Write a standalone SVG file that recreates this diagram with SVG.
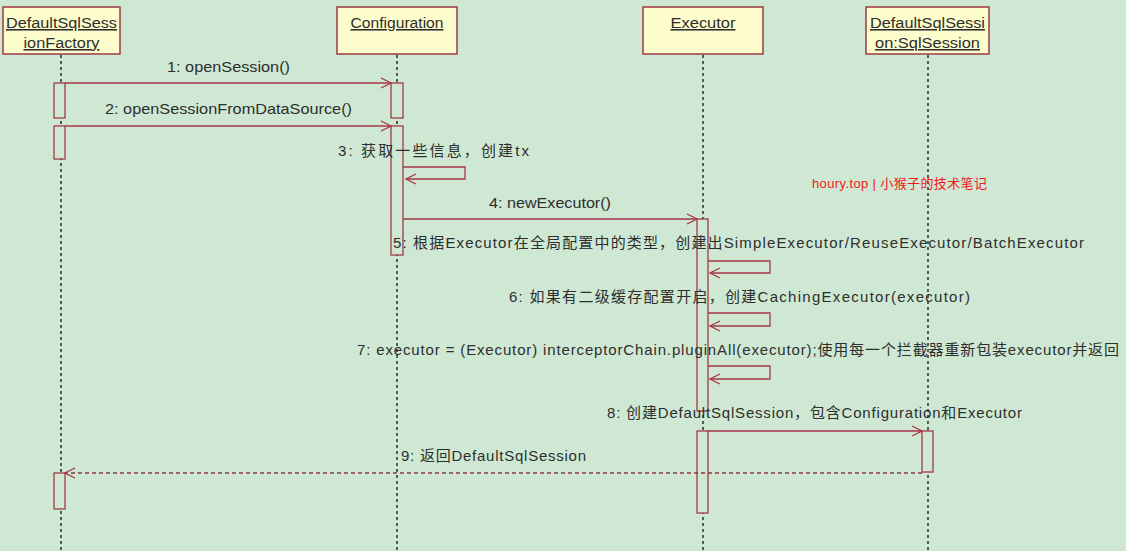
<svg xmlns="http://www.w3.org/2000/svg" width="1126" height="551" viewBox="0 0 1126 551">
<style>
  .bg{fill:#cfe8d3}
  .head{fill:#fdfccc;stroke:#9a3a44;stroke-width:1.5}
  .htxt{font-family:"Liberation Sans","Noto Sans CJK SC",sans-serif;font-size:15.5px;fill:#2e2e2e;text-decoration:underline;text-anchor:middle}
  .life{stroke:#2e2e2e;stroke-width:1.5;stroke-dasharray:3,3;fill:none}
  .act{fill:#cfe8d3;stroke:#a03a48;stroke-width:1.3}
  .msg{stroke:#a8364a;stroke-width:1.3;fill:none}
  .ret{stroke:#8e3340;stroke-width:1.3;fill:none;stroke-dasharray:4,3}
  .lbl{font-family:"Liberation Sans","Noto Sans CJK SC",sans-serif;font-size:15px;fill:#2e2e2e}
  .wm{font-family:"Liberation Sans","Noto Sans CJK SC",sans-serif;font-size:13px;fill:#f01818}
</style>
<defs>
  <marker id="open" markerUnits="userSpaceOnUse" markerWidth="12" markerHeight="12" refX="11" refY="6" orient="auto">
    <path d="M1,1 L11,6 L1,11" fill="none" stroke="#a8364a" stroke-width="1.3"/>
  </marker>
</defs>
<rect class="bg" x="0" y="0" width="1126" height="551"/>

<g id="lifelines">
  <line class="life" x1="61" y1="55" x2="61" y2="551"/>
  <line class="life" x1="397" y1="55" x2="397" y2="551"/>
  <line class="life" x1="703" y1="55" x2="703" y2="551"/>
  <line class="life" x1="928" y1="55" x2="928" y2="551"/>
</g>

<g id="node-factory">
  <rect class="head" x="3" y="7" width="117" height="47"/>
  <text class="htxt" x="61.5" y="28" textLength="111" lengthAdjust="spacingAndGlyphs">DefaultSqlSess</text>
  <text class="htxt" x="61.5" y="48" textLength="76" lengthAdjust="spacingAndGlyphs">ionFactory</text>
  <rect class="act" x="54" y="83" width="11" height="35"/>
  <rect class="act" x="54" y="126" width="11" height="33"/>
  <rect class="act" x="54" y="473" width="11" height="36"/>
</g>

<g id="node-configuration">
  <rect class="head" x="337" y="7" width="120" height="47"/>
  <text class="htxt" x="397" y="28" textLength="93" lengthAdjust="spacingAndGlyphs">Configuration</text>
  <rect class="act" x="391" y="83" width="12" height="35"/>
  <rect class="act" x="391" y="126" width="12" height="129"/>
</g>

<g id="node-executor">
  <rect class="head" x="643" y="7" width="120" height="47"/>
  <text class="htxt" x="703" y="28" textLength="65" lengthAdjust="spacingAndGlyphs">Executor</text>
  <rect class="act" x="697" y="219" width="11" height="192"/>
  <rect class="act" x="697" y="431" width="11" height="82"/>
</g>

<g id="node-sqlsession">
  <rect class="head" x="866" y="7" width="123" height="47"/>
  <text class="htxt" x="927.5" y="28" textLength="115" lengthAdjust="spacingAndGlyphs">DefaultSqlSessi</text>
  <text class="htxt" x="927.5" y="48" textLength="105" lengthAdjust="spacingAndGlyphs">on:SqlSession</text>
  <rect class="act" x="922" y="431" width="11" height="41"/>
</g>

<g id="connectors">
  <line class="msg" x1="65" y1="83" x2="391" y2="83" marker-end="url(#open)"/>
  <line class="msg" x1="65" y1="126" x2="391" y2="126" marker-end="url(#open)"/>
  <path class="msg" d="M403,167 H465 V179 H406" marker-end="url(#open)"/>
  <line class="msg" x1="403" y1="219" x2="697" y2="219" marker-end="url(#open)"/>
  <path class="msg" d="M708,261 H770 V273 H710" marker-end="url(#open)"/>
  <path class="msg" d="M708,313 H770 V326 H710" marker-end="url(#open)"/>
  <path class="msg" d="M708,366 H770 V379 H710" marker-end="url(#open)"/>
  <line class="msg" x1="708" y1="431" x2="922" y2="431" marker-end="url(#open)"/>
  <line class="ret" x1="922" y1="473" x2="65" y2="473" marker-end="url(#open)"/>
</g>

<g id="labels">
  <text class="lbl" x="167" y="72" textLength="123" lengthAdjust="spacingAndGlyphs">1: openSession()</text>
  <text class="lbl" x="105" y="114" textLength="247" lengthAdjust="spacingAndGlyphs">2: openSessionFromDataSource()</text>
  <text class="lbl" x="338" y="156" textLength="191" lengthAdjust="spacing">3: 获取一些信息，创建tx</text>
  <text class="lbl" x="489" y="208" textLength="122" lengthAdjust="spacingAndGlyphs">4: newExecutor()</text>
  <text class="lbl" x="393" y="248" textLength="691" lengthAdjust="spacing">5: 根据Executor在全局配置中的类型，创建出SimpleExecutor/ReuseExecutor/BatchExecutor</text>
  <text class="lbl" x="509" y="302" textLength="461" lengthAdjust="spacing">6: 如果有二级缓存配置开启，创建CachingExecutor(executor)</text>
  <text class="lbl" x="357" y="355" textLength="762" lengthAdjust="spacing">7: executor = (Executor) interceptorChain.pluginAll(executor);使用每一个拦截器重新包装executor并返回</text>
  <text class="lbl" x="607" y="418" textLength="415" lengthAdjust="spacing">8: 创建DefaultSqlSession，包含Configuration和Executor</text>
  <text class="lbl" x="401" y="461" textLength="185" lengthAdjust="spacing">9: 返回DefaultSqlSession</text>
  <text class="wm" x="812" y="188" textLength="175" lengthAdjust="spacing">houry.top | 小猴子的技术笔记</text>
</g>
</svg>
